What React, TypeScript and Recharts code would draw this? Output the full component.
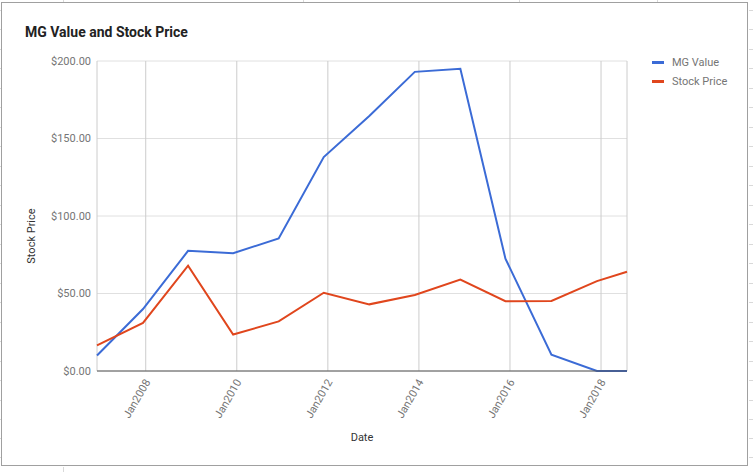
import React from "react";
import { LineChart, Line, XAxis, YAxis, CartesianGrid } from "recharts";

// approx. sample dates as fractional years (points fall in early December, last one mid 2018)
const dates = [2006.93, 2007.94, 2008.93, 2009.92, 2010.92, 2011.91, 2012.91, 2013.91, 2014.91, 2015.9, 2016.91, 2017.91, 2018.57];
const mgValue = [10, 40, 77.5, 76, 85.5, 138, 164.5, 193, 195, 72.5, 10.5, 0, 0];
const stockPrice = [16.5, 31, 68, 23.5, 32, 50.5, 43, 49, 59, 45, 45.2, 58, 64];

const xTicks = [2008, 2010, 2012, 2014, 2016, 2018];
const yTicks = [0, 50, 100, 150, 200];

const seriesNames = ["MG Value", "Stock Price"];
const seriesColors = ["#3b6bd6", "#e0461d"];

const rows = dates.map((d, i) => ({ date: d, mg: mgValue[i], price: stockPrice[i] }));

const FONT = "Roboto, 'Noto Sans', sans-serif";

const XTick = (props: any) => {
  const { x, y, payload } = props;
  return (
    <text
      transform={`translate(${x + 5},${y + 11}) rotate(-60)`}
      textAnchor="end"
      fontSize={11}
      fontFamily={FONT}
      fill="#757575"
    >
      {"Jan" + payload.value}
    </text>
  );
};

const yLabel = (props: any) => {
  const vb = props.viewBox;
  const cx = vb.x + 31;
  const cy = vb.y + vb.height / 2 + 20;
  return (
    <text
      x={cx}
      y={cy}
      transform={`rotate(-90, ${cx}, ${cy})`}
      textAnchor="middle"
      dominantBaseline="central"
      fontSize={11}
      fontFamily={FONT}
      fill="#333"
    >
      Stock Price
    </text>
  );
};

const xLabel = (props: any) => {
  const vb = props.viewBox;
  return (
    <text
      x={vb.x + vb.width / 2}
      y={vb.y + 66}
      textAnchor="middle"
      dominantBaseline="central"
      fontSize={11}
      fontFamily={FONT}
      fill="#333"
    >
      Date
    </text>
  );
};

// faint spreadsheet cells peeking out around the chart frame
const rightMarks = [10, 29, 49, 68, 88, 107, 127, 146, 166, 185, 205, 224, 244, 263, 283, 302, 322, 341, 361, 380, 400, 419, 438, 457];
const topMarks = [63, 303, 519, 657];

export default function App() {
  return (
    <div style={{ position: "absolute", left: 0, top: 0, width: 753, height: 472, background: "#fff", fontFamily: FONT }}>
      {rightMarks.map((y) => (
        <div key={"r" + y} style={{ position: "absolute", left: 749, top: y, width: 4, height: 1, background: "#d9d9d9" }} />
      ))}
      {rightMarks.map((y) => (
        <div key={"l" + y} style={{ position: "absolute", left: 0, top: y, width: 1, height: 1, background: "#d9d9d9" }} />
      ))}
      {topMarks.map((x) => (
        <div key={"t" + x} style={{ position: "absolute", left: x, top: 0, width: 1, height: 2, background: "#d9d9d9" }} />
      ))}
      <div style={{ position: "absolute", left: 63, top: 467, width: 1, height: 5, background: "#d9d9d9" }} />
      <div
        style={{
          position: "absolute",
          left: 1,
          top: 2,
          width: 747,
          height: 464,
          border: "1px solid #a0a0a0",
          boxSizing: "border-box",
        }}
      />
      <div
        style={{
          position: "absolute",
          left: 25,
          top: 24,
          fontSize: 14,
          fontWeight: "bold",
          color: "#222",
          whiteSpace: "nowrap",
        }}
      >
        MG Value and Stock Price
      </div>
      <div style={{ position: "absolute", left: 0, top: 0 }}>
        <LineChart width={753} height={472} data={rows} margin={{ top: 61, right: 126, bottom: 41, left: 0 }}>
          <CartesianGrid horizontal={true} vertical={false} stroke="#e0e0e0" />
          <CartesianGrid horizontal={false} vertical={true} stroke="#cccccc" />
          <XAxis
            dataKey="date"
            type="number"
            domain={["dataMin", "dataMax"]}
            ticks={xTicks}
            height={60}
            tickLine={false}
            tickSize={0}
            tickMargin={0}
            axisLine={{ stroke: "#555", strokeWidth: 1 }}
            tick={<XTick />}
            interval={0}
            label={xLabel}
          />
          <YAxis
            type="number"
            domain={[0, 200]}
            ticks={yTicks}
            width={97}
            tickLine={false}
            axisLine={false}
            tickSize={0}
            tickMargin={6}
            tickFormatter={(v: number) => "$" + v.toFixed(2)}
            tick={{ fontSize: 11, fontFamily: FONT, fill: "#757575" }}
            label={yLabel}
          />
          <Line
            type="linear"
            dataKey="mg"
            name={seriesNames[0]}
            stroke={seriesColors[0]}
            strokeWidth={2}
            dot={false}
            isAnimationActive={false}
          />
          <Line
            type="linear"
            dataKey="price"
            name={seriesNames[1]}
            stroke={seriesColors[1]}
            strokeWidth={2}
            dot={false}
            isAnimationActive={false}
          />
        </LineChart>
      </div>
      <div style={{ position: "absolute", left: 652, top: 53 }}>
        {seriesNames.map((name, i) => (
          <div key={name} style={{ display: "flex", alignItems: "center", height: 19 }}>
            <div style={{ width: 12, height: 3, background: seriesColors[i], marginRight: 8 }} />
            <span style={{ fontSize: 11, color: "#757575", whiteSpace: "nowrap" }}>{name}</span>
          </div>
        ))}
      </div>
    </div>
  );
}
